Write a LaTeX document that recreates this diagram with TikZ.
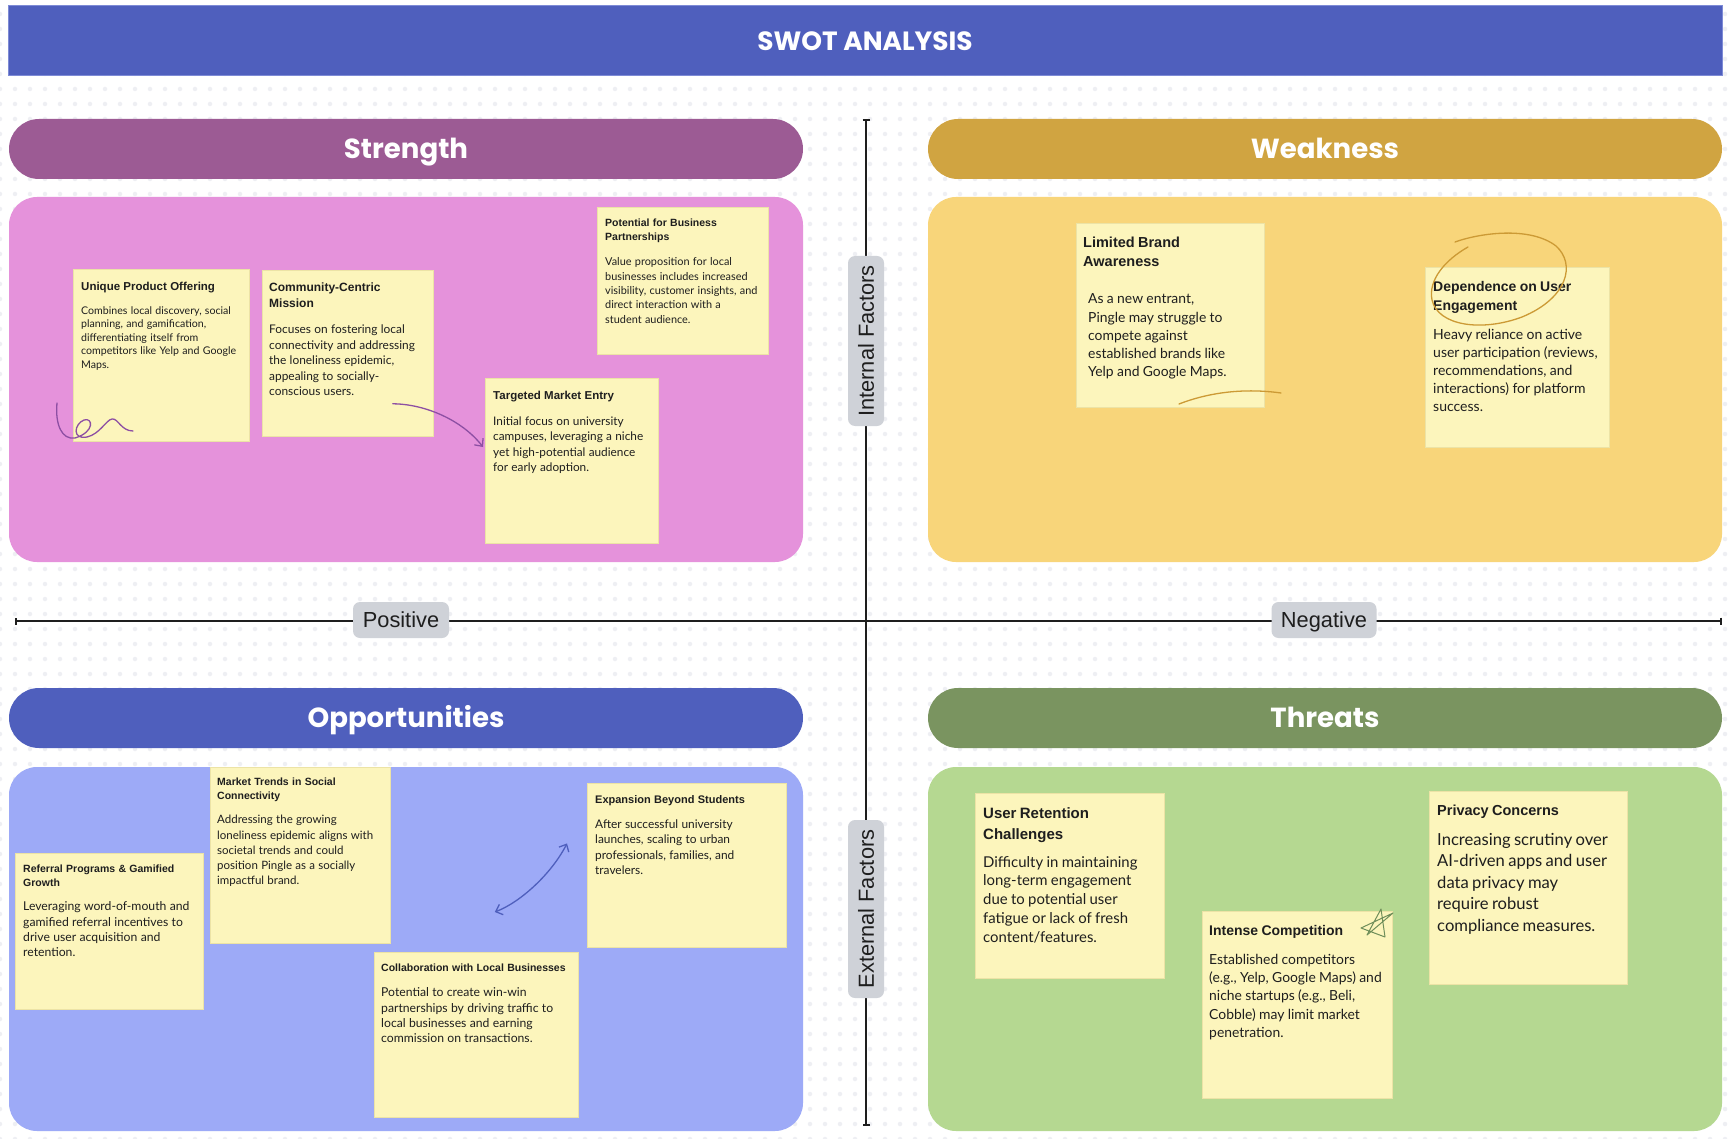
\documentclass[tikz,border=0pt]{standalone}
\usepackage{fontspec}
\setmainfont{Liberation Sans}
\newfontfamily\headfont{Poppins}
\newfontfamily\bodyfont{Lato}
\usetikzlibrary{positioning}
\usetikzlibrary{calc}
\usetikzlibrary{arrows.meta}
\setlength{\parindent}{0pt}

\definecolor{titleblue}{HTML}{4F5FBD}
\definecolor{titleedge}{HTML}{7E8BD6}
\definecolor{strhead}{HTML}{9C5B94}
\definecolor{strpanel}{HTML}{E592DB}
\definecolor{weakhead}{HTML}{D0A441}
\definecolor{weakpanel}{HTML}{F8D57A}
\definecolor{opppanel}{HTML}{9DAAF7}
\definecolor{thrhead}{HTML}{7A9460}
\definecolor{thrpanel}{HTML}{B5D891}
\definecolor{notefill}{HTML}{FCF5BC}
\definecolor{noteedge}{HTML}{ECE3A6}
\definecolor{pillgray}{HTML}{CFD2D8}
\definecolor{dotgray}{HTML}{EEEFF3}
\definecolor{inkpurple}{HTML}{8D4FA3}
\definecolor{inkgold}{HTML}{CC9A35}
\definecolor{inkgreen}{HTML}{6F8E5A}
\definecolor{textdark}{HTML}{1E1E1E}

\newcommand{\headsz}[2]{\fontsize{#1}{#2}\selectfont\bfseries}
\newcommand{\bodysz}[2]{\bodyfont\mdseries\fontsize{#1}{#2}\selectfont}

\tikzset{
  dotrow/.style={draw=dotgray, line width=4.5pt, line cap=round, dash pattern=on 0pt off 15pt},
  header/.style={rounded corners=30pt, minimum width=794pt, minimum height=60pt, inner sep=0pt,
    text height=19pt, text depth=0pt, text=white, font=\headfont\bfseries\fontsize{27.6}{30}\selectfont},
  panel/.style={rounded corners=28pt, minimum width=794pt, minimum height=365pt, inner sep=0pt},
  note/.style={fill=notefill, draw=noteedge, line width=0.8pt, anchor=north west, inner sep=0pt},
  notetxt/.style={anchor=north west, inner sep=0pt, align=left, text=textdark},
  pill/.style={fill=pillgray, rounded corners=7pt, minimum height=36pt, inner sep=0pt,
    text height=15.5pt, text depth=0pt, text=textdark, font=\fontsize{21.8}{24}\selectfont},
  axis/.style={line width=1.6pt, draw=textdark, {Bar[width=7pt]}-{Bar[width=7pt]}},
  scribble/.style={line width=1.3pt, line cap=round, line join=round}
}

\begin{document}
\begin{tikzpicture}[x=1pt, y=-1pt]

    \useasboundingbox (0,0) rectangle (1731,1139);
    \fill[white] (0,0) rectangle (1731,1139);

    % Dotted canvas
    \foreach \y in {14,29,...,1139}
        \draw[dotrow] (0,\y) -- (1731,\y);

    % Title
    \node[fill=titleblue, draw=titleedge, line width=1pt, minimum width=1714pt, minimum height=70pt,
        text height=18.5pt, text depth=0pt,
        text=white, font=\headfont\bfseries\fontsize{26.4}{28}\selectfont] (title) at (865,41) {SWOT ANALYSIS};

    % Axes
    \coordinate (axW) at (15,621);
    \coordinate (axE) at (1722,621);
    \coordinate (axN) at (866,119);
    \coordinate (axS) at (866,1126);
    \draw[axis] (axW) -- (axE);
    \draw[axis] (axN) -- (axS);

    \node[pill, minimum width=96pt] (pos) at (401,620) {Positive};
    \node[pill, minimum width=105pt] (neg) at (1324,620) {Negative};
    \node[pill, rotate=90, minimum width=170pt] (intF) at (866,341) {Internal Factors};
    \node[pill, rotate=90, minimum width=178pt] (extF) at (866,909) {External Factors};

    % Quadrants
    \node[header, fill=strhead] (strH) at (406,149) {Strength};
    \node[panel, fill=strpanel] (strP) at (406,379.5) {};
    \node[header, fill=weakhead] (weakH) at (1325,149) {Weakness};
    \node[panel, fill=weakpanel] (weakP) at (1325,379.5) {};
    \node[header, fill=titleblue] (oppH) at (406,718) {Opportunities};
    \node[panel, fill=opppanel, minimum height=364pt] (oppP) at (406,949) {};
    \node[header, fill=thrhead] (thrH) at (1325,718) {Threats};
    \node[panel, fill=thrpanel, minimum height=364pt] (thrP) at (1325,949) {};

    % Strength notes
    \node[note, minimum width=176pt, minimum height=172pt] (uniq) at (73,269) {};
    \node[notetxt, text width=170pt, below right=13pt and 8pt of uniq.north west] (uniqT)
        {\headsz{11.5}{14}Unique Product Offering\par\vspace{10.6pt}
         \bodysz{10.6}{13.4}Combines local discovery, social\\planning, and gamification,\\
         differentiating itself from\\competitors like Yelp and Google\\Maps.\par};

    \node[note, minimum width=171pt, minimum height=166pt] (comm) at (262,270) {};
    \node[notetxt, text width=165pt, below right=13pt and 7pt of comm.north west] (commT)
        {\headsz{12}{16}Community-Centric\\Mission\par\vspace{10.5pt}
         \bodysz{11.9}{15.5}Focuses on fostering local\\connectivity and addressing\\
         the loneliness epidemic,\\appealing to socially-\\conscious users.\par};

    \node[note, minimum width=171pt, minimum height=147pt] (partn) at (597,207) {};
    \node[notetxt, text width=165pt, below right=12pt and 8pt of partn.north west] (partnT)
        {\headsz{10.5}{14}Potential for Business\\Partnerships\par\vspace{10.7pt}
         \bodysz{10.9}{14.3}Value proposition for local\\businesses includes increased\\
         visibility, customer insights, and\\direct interaction with a\\student audience.\par};

    \node[note, minimum width=173pt, minimum height=165pt] (targ) at (485,378) {};
    \node[notetxt, text width=167pt, below right=13pt and 8pt of targ.north west] (targT)
        {\headsz{11.5}{14}Targeted Market Entry\par\vspace{10.7pt}
         \bodysz{11.8}{15.3}Initial focus on university\\campuses, leveraging a niche\\
         yet high-potential audience\\for early adoption.\par};

    % Strength sketches
    \draw[scribble, inkpurple] (57,403) .. controls (55,425) and (62,440) .. (75,438)
        .. controls (95,432) and (93,417) .. (84,420) .. controls (74,424) and (72,440) .. (87,437)
        .. controls (100,434) and (106,420) .. (112,419) .. controls (118,418) and (121,431) .. (133,431);
    \coordinate (arrS) at ($(comm.south east)+(-41,-33)$);
    \coordinate (arrE) at ($(targ.north west)+(-2,69)$);
    \draw[scribble, inkpurple, -{Straight Barb[length=6pt, width=11pt]}]
        (arrS) .. controls (425,404) and (462,420) .. (arrE);

    % Weakness notes
    \node[note, minimum width=188pt, minimum height=184pt] (brand) at (1076,223) {};
    \node[notetxt, text width=180pt, below right=14pt and 7pt of brand.north west] (brandT)
        {\headsz{14.5}{19}Limited Brand\\Awareness\par\vspace{19pt}
         \leftskip=5pt\bodysz{13.9}{18.2}As a new entrant,\\Pingle may struggle to\\
         compete against\\established brands like\\Yelp and Google Maps.\par};

    \node[note, minimum width=184pt, minimum height=180pt] (depend) at (1425,267) {};
    \node[notetxt, text width=178pt, below right=14pt and 8pt of depend.north west] (dependT)
        {\headsz{14}{19}Dependence on User\\Engagement\par\vspace{11pt}
         \bodysz{14}{18}Heavy reliance on active\\user participation (reviews,\\
         recommendations, and\\interactions) for platform\\success.\par};

    % Weakness sketches
    \draw[scribble, inkgold] (1179,404) .. controls (1210,392) and (1245,388) .. (1281,393);
    \draw[scribble, inkgold] (1455,242) .. controls (1480,233) and (1530,226) .. (1556,246)
        .. controls (1576,264) and (1568,298) .. (1522,317) .. controls (1482,332) and (1438,326) .. (1432,300)
        .. controls (1428,280) and (1445,260) .. (1468,247);

    % Opportunities notes
    \node[note, minimum width=188pt, minimum height=156pt] (refer) at (15,853) {};
    \node[notetxt, text width=182pt, below right=12pt and 8pt of refer.north west] (referT)
        {\headsz{10.5}{14}Referral Programs \& Gamified\\Growth\par\vspace{8.7pt}
         \bodysz{12.2}{15.3}Leveraging word-of-mouth and\\gamified referral incentives to\\
         drive user acquisition and\\retention.\par};

    \node[note, minimum width=180pt, minimum height=176pt] (trend) at (210,767) {};
    \node[notetxt, text width=175pt, below right=11pt and 7pt of trend.north west] (trendT)
        {\headsz{10.5}{14}Market Trends in Social\\Connectivity\par\vspace{8.8pt}
         \bodysz{11.5}{15.2}Addressing the growing\\loneliness epidemic aligns with\\
         societal trends and could\\position Pingle as a socially\\impactful brand.\par};

    \node[note, minimum width=204pt, minimum height=165pt] (collab) at (374,952) {};
    \node[notetxt, text width=198pt, below right=12pt and 7pt of collab.north west] (collabT)
        {\headsz{10.5}{14}Collaboration with Local Businesses\par\vspace{9.7pt}
         \bodysz{12.2}{15.3}Potential to create win-win\\partnerships by driving traffic to\\
         local businesses and earning\\commission on transactions.\par};

    \node[note, minimum width=199pt, minimum height=164pt] (expand) at (587,783) {};
    \node[notetxt, text width=192pt, below right=12pt and 8pt of expand.north west] (expandT)
        {\headsz{11}{14}Expansion Beyond Students\par\vspace{9.5pt}
         \bodysz{11.9}{15.5}After successful university\\launches, scaling to urban\\
         professionals, families, and\\travelers.\par};

    % Opportunities sketch
    \coordinate (dblS) at ($(collab.north east)+(-84,-40)$);
    \coordinate (dblE) at ($(expand.west)+(-20,-22)$);
    \draw[scribble, titleblue, {Straight Barb[length=6pt, width=11pt]}-{Straight Barb[length=6pt, width=11pt]}]
        (dblS) .. controls (521,902) and (552,873) .. (dblE);

    % Threats notes
    \node[note, minimum width=189pt, minimum height=185pt] (retain) at (975,793) {};
    \node[notetxt, text width=182pt, below right=14pt and 8pt of retain.north west] (retainT)
        {\headsz{15}{21}User Retention\\Challenges\par\vspace{9.2pt}
         \bodysz{14.9}{18.8}Difficulty in maintaining\\long-term engagement\\
         due to potential user\\fatigue or lack of fresh\\content/features.\par};

    \node[note, minimum width=190pt, minimum height=187pt] (compet) at (1202,911) {};
    \node[notetxt, text width=184pt, below right=14pt and 7pt of compet.north west] (competT)
        {\headsz{14}{18}Intense Competition\par\vspace{10.7pt}
         \bodysz{13.9}{18.3}Established competitors\\(e.g., Yelp, Google Maps) and\\
         niche startups (e.g., Beli,\\Cobble) may limit market\\penetration.\par};

    \node[note, minimum width=198pt, minimum height=193pt] (privacy) at (1429,791) {};
    \node[notetxt, text width=190pt, below right=14pt and 8pt of privacy.north west] (privacyT)
        {\headsz{14.5}{19}Privacy Concerns\par\vspace{8pt}
         \bodysz{16.6}{21.5}Increasing scrutiny over\\AI-driven apps and user\\
         data privacy may\\require robust\\compliance measures.\par};

    % Threats sketch
    \draw[scribble, inkgreen, line width=1pt] (1381,909) -- (1367,935) -- (1393,913) -- (1361,928)
        -- (1385,937) -- cycle;

\end{tikzpicture}
\end{document}
